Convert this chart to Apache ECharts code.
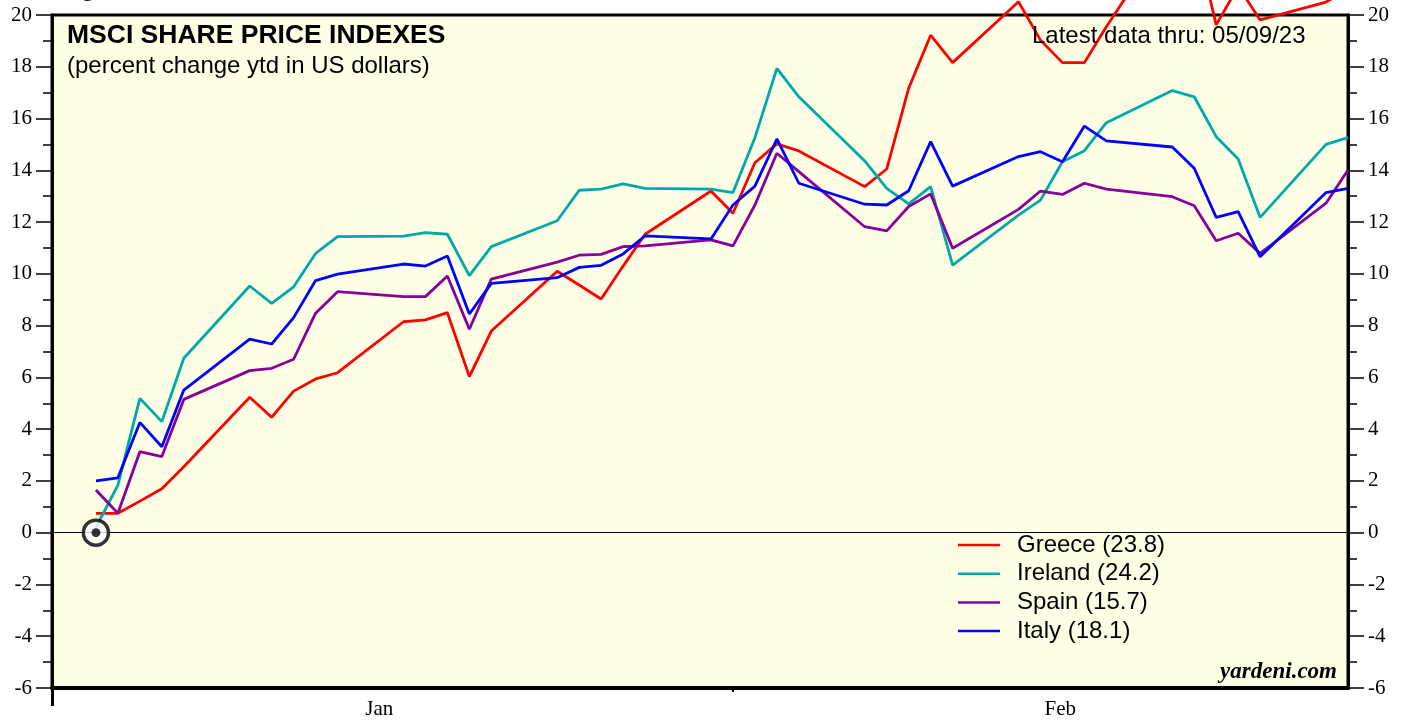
<!DOCTYPE html>
<html>
<head>
<meta charset="utf-8">
<title>MSCI Share Price Indexes</title>
<script src="https://cdn.jsdelivr.net/npm/echarts@6/dist/echarts.min.js"></script>
<style>
  html, body { margin: 0; padding: 0; background: #fff; }
  #chart { width: 1407px; height: 721px; }
</style>
</head>
<body>
<div id="chart"></div>
<script>
  // day of year (Jan 1 = 1), trading days only
  var tradingDays = [2, 3, 4, 5, 6, 9, 10, 11, 12, 13, 16, 17, 18, 19, 20, 23, 24, 25, 26, 27, 30, 31,
    32, 33, 34, 37, 38, 39, 40, 41, 44, 45, 46, 47, 48, 51, 52, 53, 54, 55, 58, 59];

  var greece = [0.75, 0.75, 1.22, 1.70, 2.55, 5.23, 4.46, 5.47, 5.94, 6.18, 8.15, 8.22, 8.50, 6.03, 7.79,
    10.10, 9.57, 9.03, 10.30, 11.53, 13.20, 12.34, 14.29, 15.02, 14.75, 13.37, 14.05, 17.17, 19.22, 18.16,
    20.51, 19.03, 18.16, 18.16, 19.55, 23.4, 23.2, 19.62, 21.1, 19.81, 20.5, 21.0];
  var ireland = [0.2, 1.84, 5.19, 4.29, 6.74, 9.53, 8.86, 9.50, 10.79, 11.44, 11.46, 11.59, 11.53, 9.93, 11.05,
    12.05, 13.23, 13.27, 13.48, 13.30, 13.27, 13.14, 15.26, 17.94, 16.84, 14.36, 13.30, 12.70, 13.37, 10.34,
    12.27, 12.85, 14.33, 14.76, 15.84, 17.08, 16.84, 15.30, 14.44, 12.18, 15.00, 15.26];
  var spain = [1.65, 0.75, 3.13, 2.94, 5.15, 6.26, 6.35, 6.70, 8.48, 9.31, 9.12, 9.12, 9.92, 7.86, 9.80,
    10.45, 10.72, 10.75, 11.05, 11.08, 11.31, 11.08, 12.66, 14.66, 13.95, 11.82, 11.66, 12.60, 13.09, 10.99,
    12.49, 13.20, 13.07, 13.50, 13.27, 12.98, 12.63, 11.28, 11.57, 10.79, 12.73, 14.01];
  var italy = [2.0, 2.12, 4.26, 3.32, 5.51, 7.48, 7.29, 8.31, 9.74, 9.99, 10.38, 10.30, 10.69, 8.45, 9.63,
    9.85, 10.25, 10.33, 10.77, 11.47, 11.35, 12.66, 13.39, 15.21, 13.50, 12.69, 12.66, 13.21, 15.11, 13.39,
    14.53, 14.72, 14.33, 15.71, 15.14, 14.90, 14.08, 12.18, 12.40, 10.66, 13.14, 13.30];

  var seriesNames = ['Greece (23.8)', 'Ireland (24.2)', 'Spain (15.7)', 'Italy (18.1)'];
  var seriesColors = ['#ff0000', '#00a9a9', '#880099', '#0000ff'];

  var monthLabels = ['Jan', 'Feb'];
  var monthLabelPos = [14.9, 45.9];
  var monthEnd = [31];
  var startPoint = [2, 0];

  var yTicks = { min: -6, max: 20, step: 2 };

  function pairs(vals) {
    return tradingDays.map(function (d, i) { return [d, vals[i]]; });
  }

  var chart = echarts.init(document.getElementById('chart'));

  var lines = [greece, ireland, spain, italy].map(function (vals, i) {
    var s = {
      name: seriesNames[i],
      type: 'line',
      data: pairs(vals),
      showSymbol: false,
      clip: false,
      color: seriesColors[i],
      lineStyle: { width: 2.8, color: seriesColors[i] },
      z: 3 + i
    };
    // zero line
    if (i === 0) {
      s.markLine = {
        silent: true,
        symbol: 'none',
        label: { show: false },
        lineStyle: { color: '#000', width: 1, type: 'solid' },
        data: [{ yAxis: 0 }],
        z: 2
      };
    }
    return s;
  });

  var yAxisBase = {
    type: 'value',
    min: yTicks.min,
    max: yTicks.max,
    interval: yTicks.step,
    axisLine: { show: true, onZero: false, lineStyle: { color: '#000', width: 3 } },
    axisTick: { show: true, inside: false, length: 16, lineStyle: { color: '#000', width: 1.5 } },
    minorTick: { show: true, splitNumber: 2, length: 9, lineStyle: { color: '#000', width: 1.5 } },
    splitLine: { show: false },
    axisLabel: { fontFamily: 'Liberation Serif', fontSize: 21, color: '#000', margin: 20 }
  };

  chart.setOption({
    animation: false,
    grid: {
      left: 52, right: 59, top: 15, bottom: 33,
      show: true, backgroundColor: '#ffffe6', borderColor: '#000', borderWidth: 3
    },
    legend: {
      data: seriesNames,
      orient: 'vertical',
      left: 953,
      top: 528,
      icon: 'rect',
      itemWidth: 42,
      itemHeight: 2.5,
      itemGap: 4.7,
      textStyle: { fontFamily: 'Liberation Sans', fontSize: 24, color: '#000', padding: [0, 0, 0, 12] }
    },
    xAxis: [{
      type: 'value',
      min: 0,
      max: 59,
      axisLine: { show: true, onZero: false, lineStyle: { color: '#000', width: 4 } },
      axisTick: { show: true, customValues: [0], length: 18, lineStyle: { color: '#000', width: 3 } },
      splitLine: { show: false },
      axisLabel: {
        customValues: monthLabelPos,
        fontFamily: 'Liberation Serif', fontSize: 21, color: '#000', margin: 11,
        formatter: function (v) { return monthLabels[monthLabelPos.indexOf(v)] || ''; }
      }
    }, {
      type: 'value',
      position: 'bottom',
      min: 0,
      max: 59,
      axisLine: { show: false, onZero: false },
      axisTick: { show: true, customValues: monthEnd, length: 4, lineStyle: { color: '#000', width: 2 } },
      axisLabel: { show: false },
      splitLine: { show: false }
    }],
    yAxis: [
      Object.assign({}, yAxisBase, { position: 'left' }),
      Object.assign({}, yAxisBase, { position: 'right' })
    ],
    series: lines.concat([{
      type: 'scatter',
      data: [startPoint],
      symbol: 'circle',
      symbolSize: 25,
      itemStyle: { color: '#fff', borderColor: '#000', borderWidth: 3.5 },
      silent: true,
      z: 10
    }, {
      type: 'scatter',
      data: [startPoint],
      symbol: 'circle',
      symbolSize: 9,
      itemStyle: { color: '#000' },
      silent: true,
      z: 11
    }]),
    graphic: [
      { type: 'text', x: 80, y: -11, z: 20, style: { text: 'g', font: 'bold 26px "Liberation Sans"', fill: '#000', verticalAlign: 'middle' } },
      { type: 'text', x: 67, y: 36, z: 20, style: { text: 'MSCI SHARE PRICE INDEXES', font: 'bold 26.5px "Liberation Sans"', fill: '#000', verticalAlign: 'middle' } },
      { type: 'text', x: 67, y: 66, z: 20, style: { text: '(percent change ytd in US dollars)', font: '24px "Liberation Sans"', fill: '#000', verticalAlign: 'middle' } },
      { type: 'text', x: 1032, y: 36, z: 20, style: { text: 'Latest data thru: 05/09/23', font: '24px "Liberation Sans"', fill: '#000', verticalAlign: 'middle' } },
      { type: 'text', x: 1337, y: 672, z: 20, style: { text: 'yardeni.com', font: 'italic bold 23px "Liberation Serif"', fill: '#000', align: 'right', verticalAlign: 'middle' } }
    ]
  });
</script>
</body>
</html>
